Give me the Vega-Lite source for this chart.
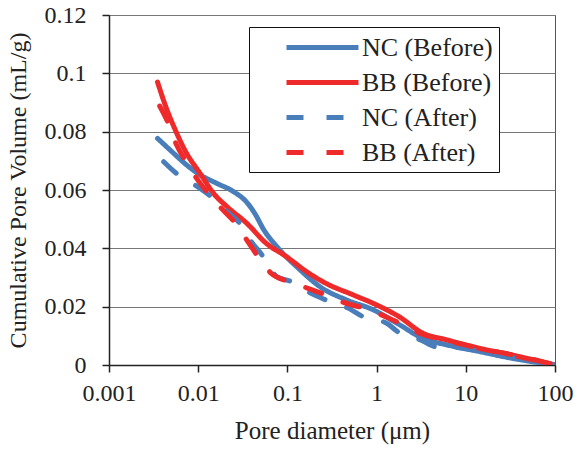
{
  "$schema": "https://vega.github.io/schema/vega-lite/v6.json",
  "width": 446,
  "height": 350,
  "autosize": {"type": "none"},
  "padding": {"left": 109, "top": 15, "right": 21, "bottom": 87},
  "background": "white",
  "config": {
    "font": "Liberation Serif",
    "view": {"stroke": "#555", "strokeWidth": 1},
    "legend": {
      "title": null,
      "orient": "none",
      "legendX": 140,
      "legendY": 12,
      "strokeColor": "#111",
      "fillColor": "white",
      "padding": 6,
      "symbolType": "M-1,0H5",
      "symbolSize": 576,
      "symbolStrokeWidth": 5,
      "symbolOffset": 29,
      "labelFontSize": 26,
      "labelFont": "Liberation Serif",
      "labelColor": "#222",
      "labelOffset": 49,
      "rowPadding": 7
    }
  },
  "data": {
    "values": [
      {"series": "NC (Before)", "d": 0.0035, "v": 0.0777},
      {"series": "NC (Before)", "d": 0.0053, "v": 0.0726},
      {"series": "NC (Before)", "d": 0.0074, "v": 0.0686},
      {"series": "NC (Before)", "d": 0.0105, "v": 0.0652},
      {"series": "NC (Before)", "d": 0.0161, "v": 0.0623},
      {"series": "NC (Before)", "d": 0.0247, "v": 0.0595},
      {"series": "NC (Before)", "d": 0.035, "v": 0.0558},
      {"series": "NC (Before)", "d": 0.044, "v": 0.0515},
      {"series": "NC (Before)", "d": 0.054, "v": 0.0465},
      {"series": "NC (Before)", "d": 0.076, "v": 0.0406},
      {"series": "NC (Before)", "d": 0.139, "v": 0.0326},
      {"series": "NC (Before)", "d": 0.23, "v": 0.0269},
      {"series": "NC (Before)", "d": 0.46, "v": 0.0223},
      {"series": "NC (Before)", "d": 0.92, "v": 0.0189},
      {"series": "NC (Before)", "d": 1.83, "v": 0.0137},
      {"series": "NC (Before)", "d": 3.3, "v": 0.0091},
      {"series": "NC (Before)", "d": 6.1, "v": 0.0069},
      {"series": "NC (Before)", "d": 14.3, "v": 0.0046},
      {"series": "NC (Before)", "d": 33, "v": 0.0023},
      {"series": "NC (Before)", "d": 100, "v": 0},

      {"series": "BB (Before)", "d": 0.0035, "v": 0.097},
      {"series": "BB (Before)", "d": 0.0044, "v": 0.088},
      {"series": "BB (Before)", "d": 0.0053, "v": 0.0819},
      {"series": "BB (Before)", "d": 0.0074, "v": 0.0726},
      {"series": "BB (Before)", "d": 0.0105, "v": 0.0657},
      {"series": "BB (Before)", "d": 0.0148, "v": 0.0589},
      {"series": "BB (Before)", "d": 0.021, "v": 0.0543},
      {"series": "BB (Before)", "d": 0.035, "v": 0.0486},
      {"series": "BB (Before)", "d": 0.058, "v": 0.0417},
      {"series": "BB (Before)", "d": 0.098, "v": 0.0371},
      {"series": "BB (Before)", "d": 0.164, "v": 0.032},
      {"series": "BB (Before)", "d": 0.27, "v": 0.028},
      {"series": "BB (Before)", "d": 0.55, "v": 0.024},
      {"series": "BB (Before)", "d": 1.0, "v": 0.0206},
      {"series": "BB (Before)", "d": 1.8, "v": 0.0165},
      {"series": "BB (Before)", "d": 3.3, "v": 0.0109},
      {"series": "BB (Before)", "d": 6.1, "v": 0.0086},
      {"series": "BB (Before)", "d": 14.3, "v": 0.0057},
      {"series": "BB (Before)", "d": 33, "v": 0.0034},
      {"series": "BB (Before)", "d": 100, "v": 0},

      {"series": "NC (After)", "d": 0.0041, "v": 0.0697},
      {"series": "NC (After)", "d": 0.0057, "v": 0.0657},
      {"series": "NC (After)", "d": 0.0092, "v": 0.0617},
      {"series": "NC (After)", "d": 0.014, "v": 0.0577},
      {"series": "NC (After)", "d": 0.021, "v": 0.0526},
      {"series": "NC (After)", "d": 0.029, "v": 0.0487},
      {"series": "NC (After)", "d": 0.038, "v": 0.0429},
      {"series": "NC (After)", "d": 0.052, "v": 0.0377},
      {"series": "NC (After)", "d": 0.076, "v": 0.0303},
      {"series": "NC (After)", "d": 0.11, "v": 0.0286},
      {"series": "NC (After)", "d": 0.17, "v": 0.0251},
      {"series": "NC (After)", "d": 0.27, "v": 0.0223},
      {"series": "NC (After)", "d": 0.48, "v": 0.0195},
      {"series": "NC (After)", "d": 0.7, "v": 0.0166},
      {"series": "NC (After)", "d": 1.3, "v": 0.0143},
      {"series": "NC (After)", "d": 1.8, "v": 0.011},
      {"series": "NC (After)", "d": 3.1, "v": 0.0086},
      {"series": "NC (After)", "d": 4.7, "v": 0.0062},
      {"series": "NC (After)", "d": 8, "v": 0.006},
      {"series": "NC (After)", "d": 13, "v": 0.005},
      {"series": "NC (After)", "d": 22, "v": 0.0034},
      {"series": "NC (After)", "d": 37, "v": 0.0024},
      {"series": "NC (After)", "d": 100, "v": 0},

      {"series": "BB (After)", "d": 0.0037, "v": 0.0888},
      {"series": "BB (After)", "d": 0.0046, "v": 0.083},
      {"series": "BB (After)", "d": 0.0057, "v": 0.0756},
      {"series": "BB (After)", "d": 0.0071, "v": 0.0703},
      {"series": "BB (After)", "d": 0.0096, "v": 0.064},
      {"series": "BB (After)", "d": 0.0124, "v": 0.0595},
      {"series": "BB (After)", "d": 0.019, "v": 0.0531},
      {"series": "BB (After)", "d": 0.026, "v": 0.0487},
      {"series": "BB (After)", "d": 0.036, "v": 0.0423},
      {"series": "BB (After)", "d": 0.047, "v": 0.0371},
      {"series": "BB (After)", "d": 0.066, "v": 0.0314},
      {"series": "BB (After)", "d": 0.103, "v": 0.0286},
      {"series": "BB (After)", "d": 0.17, "v": 0.0263},
      {"series": "BB (After)", "d": 0.27, "v": 0.024},
      {"series": "BB (After)", "d": 0.46, "v": 0.0211},
      {"series": "BB (After)", "d": 0.74, "v": 0.0194},
      {"series": "BB (After)", "d": 1.3, "v": 0.0164},
      {"series": "BB (After)", "d": 1.8, "v": 0.0144},
      {"series": "BB (After)", "d": 3.3, "v": 0.0105},
      {"series": "BB (After)", "d": 5, "v": 0.009},
      {"series": "BB (After)", "d": 10, "v": 0.0068},
      {"series": "BB (After)", "d": 20, "v": 0.0048},
      {"series": "BB (After)", "d": 40, "v": 0.003},
      {"series": "BB (After)", "d": 100, "v": 0}
    ]
  },
  "mark": {"type": "line", "strokeWidth": 5, "strokeCap": "round", "strokeJoin": "round", "interpolate": "monotone", "clip": true},
  "encoding": {
    "x": {
      "field": "d", "type": "quantitative",
      "scale": {"type": "log", "domain": [0.001, 100], "nice": false},
      "axis": {
        "title": "Pore diameter (μm)",
        "values": [0.001, 0.01, 0.1, 1, 10, 100],
        "format": "~g",
        "grid": false,
        "labelFlush": false,
        "domainColor": "#222", "domainWidth": 1.5,
        "tickColor": "#222", "tickWidth": 1.5, "tickSize": 7,
        "labelFontSize": 24, "labelColor": "#222", "labelPadding": 9, "labelFont": "Liberation Serif",
        "titleFontSize": 25, "titleFontWeight": "normal", "titleColor": "#222", "titlePadding": 13, "titleFont": "Liberation Serif"
      }
    },
    "y": {
      "field": "v", "type": "quantitative",
      "scale": {"domain": [0, 0.12], "nice": false},
      "axis": {
        "title": "Cumulative Pore Volume  (mL/g)",
        "values": [0, 0.02, 0.04, 0.06, 0.08, 0.1, 0.12],
        "format": ".2~f",
        "grid": true, "gridColor": "#777", "gridWidth": 1,
        "labelFlush": false,
        "domainColor": "#222", "domainWidth": 1.5,
        "tickColor": "#222", "tickWidth": 1.5, "tickSize": 7,
        "labelFontSize": 24, "labelColor": "#222", "labelPadding": 16, "labelFont": "Liberation Serif",
        "titleFontSize": 24, "titleFontWeight": "normal", "titleColor": "#222", "titlePadding": 14, "titleFont": "Liberation Serif"
      }
    },
    "color": {
      "field": "series", "type": "nominal",
      "scale": {
        "domain": ["NC (Before)", "BB (Before)", "NC (After)", "BB (After)"],
        "range": ["#4A7EBB", "#EE2A2A", "#4A7EBB", "#EE2A2A"]
      },
      "legend": {}
    },
    "strokeDash": {
      "field": "series", "type": "nominal",
      "scale": {
        "domain": ["NC (Before)", "BB (Before)", "NC (After)", "BB (After)"],
        "range": [[1, 0], [1, 0], [17, 23], [17, 23]]
      },
      "legend": {}
    }
  }
}
